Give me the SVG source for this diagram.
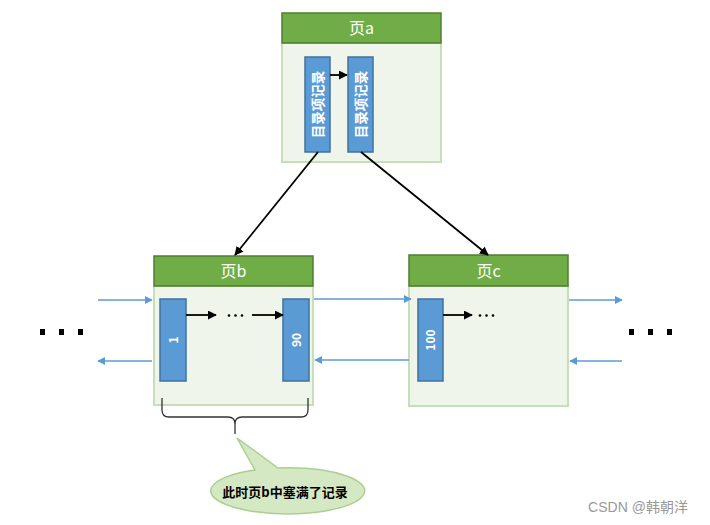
<svg xmlns="http://www.w3.org/2000/svg" width="710" height="525" viewBox="0 0 710 525">
<defs>
<style>
.hdr{fill:#70ad47;stroke:#507e32;stroke-width:1.5}
.body{fill:#eff5ea;stroke:#c5e0b4;stroke-width:2}
.rec{fill:#5b9bd5;stroke:#41719c;stroke-width:1.5}
.ht{font-family:"Noto Sans CJK SC","Liberation Sans",sans-serif;font-size:16px;fill:#fff;text-anchor:middle}
.rt{font-family:"Noto Sans CJK SC","Liberation Sans",sans-serif;font-size:12px;font-weight:bold;fill:#fff;text-anchor:middle}
.rta{font-family:"Noto Sans CJK SC","Liberation Sans",sans-serif;font-size:13.5px;font-weight:bold;fill:#fff;text-anchor:middle}
.blk{stroke:#000;stroke-width:1.8;fill:none}
.blu{stroke:#5b9bd5;stroke-width:1.6;fill:none}
</style>
<marker id="ab" viewBox="0 0 10 10" refX="9" refY="5" markerWidth="5" markerHeight="5" orient="auto"><path d="M0,0 L10,5 L0,10 z" fill="#000"/></marker>
<marker id="au" viewBox="0 0 10 10" refX="9" refY="5" markerWidth="5" markerHeight="5" orient="auto"><path d="M0,0 L10,5 L0,10 z" fill="#5b9bd5"/></marker>
</defs>
<rect width="710" height="525" fill="#fff"/>

<g id="page-a">
<rect class="body" x="282" y="43" width="159" height="119"/>
<rect class="hdr" x="282" y="13" width="159" height="30"/>
<text class="ht" x="361.5" y="34">页a</text>
<rect class="rec" x="305" y="57" width="25" height="95"/>
<text class="rta" transform="translate(322.5,104.5) rotate(-90)">目录项记录</text>
<rect class="rec" x="348" y="57" width="25" height="95"/>
<text class="rta" transform="translate(365.5,104.5) rotate(-90)">目录项记录</text>
</g>

<g id="page-b">
<rect class="body" x="154" y="286" width="159" height="119"/>
<rect class="hdr" x="154" y="256" width="159" height="30"/>
<text class="ht" x="233.5" y="277">页b</text>
<rect class="rec" x="160" y="299" width="26" height="82"/>
<text class="rt" transform="translate(177.5,340) rotate(-90)">1</text>
<rect class="rec" x="283" y="299" width="26" height="82"/>
<text class="rt" transform="translate(300.5,340) rotate(-90)">90</text>
<g fill="#000"><circle cx="229" cy="315.5" r="1.3"/><circle cx="235.5" cy="315.5" r="1.3"/><circle cx="242" cy="315.5" r="1.3"/></g>
</g>

<g id="page-c">
<rect class="body" x="409" y="286" width="159" height="120"/>
<rect class="hdr" x="409" y="255" width="159" height="31"/>
<text class="ht" x="488.5" y="277">页c</text>
<rect class="rec" x="418" y="299" width="25" height="82"/>
<text class="rt" transform="translate(435,340) rotate(-90)">100</text>
<g fill="#000"><circle cx="480" cy="315.5" r="1.3"/><circle cx="486.5" cy="315.5" r="1.3"/><circle cx="493" cy="315.5" r="1.3"/></g>
</g>

<g id="ellipsis-left"><rect x="40" y="329" width="5" height="6"/><rect x="59" y="329" width="5" height="6"/><rect x="78" y="329" width="5" height="6"/></g>
<g id="ellipsis-right"><rect x="629" y="329" width="5" height="6"/><rect x="648" y="329" width="5" height="6"/><rect x="667" y="329" width="5" height="6"/></g>

<g id="connectors">
<line class="blk" x1="330" y1="75" x2="347" y2="75" marker-end="url(#ab)"/>
<line class="blk" x1="186" y1="315" x2="216" y2="315" marker-end="url(#ab)"/>
<line class="blk" x1="252" y1="315" x2="283" y2="315" marker-end="url(#ab)"/>
<line class="blk" x1="443" y1="315" x2="472" y2="315" marker-end="url(#ab)"/>
<line class="blk" x1="318" y1="152" x2="235" y2="255" marker-end="url(#ab)"/>
<line class="blk" x1="361" y1="152" x2="488" y2="255" marker-end="url(#ab)"/>
<line class="blu" x1="98" y1="300" x2="152" y2="300" marker-end="url(#au)"/>
<line class="blu" x1="152" y1="361" x2="98" y2="361" marker-end="url(#au)"/>
<line class="blu" x1="314" y1="299" x2="411" y2="299" marker-end="url(#au)"/>
<line class="blu" x1="409" y1="360" x2="315" y2="360" marker-end="url(#au)"/>
<line class="blu" x1="569" y1="300" x2="622" y2="300" marker-end="url(#au)"/>
<line class="blu" x1="622" y1="361" x2="570" y2="361" marker-end="url(#au)"/>
</g>

<g id="brace">
<path d="M162,398 L162,410 Q162,417 169,417 L228,417 Q235,417 235,424 L235,434 M235,434 L235,424 Q235,417 242,417 L301,417 Q308,417 308,410 L308,398" fill="none" stroke="#333" stroke-width="1.3"/>
</g>

<g id="callout">
<path d="M237,438 L255,470 A77,23 0 1 0 278,468 Z" fill="#d5e8c4" stroke="#a9d08e" stroke-width="1.5"/>
<text x="285" y="497" text-anchor="middle" font-family="'Noto Sans CJK SC',sans-serif" font-size="13" font-weight="bold" fill="#000">此时页b中塞满了记录</text>
</g>

<text x="638" y="512" text-anchor="middle" font-family="'Liberation Sans','Noto Sans CJK SC',sans-serif" font-size="14" fill="#999">CSDN @韩朝洋</text>
</svg>
